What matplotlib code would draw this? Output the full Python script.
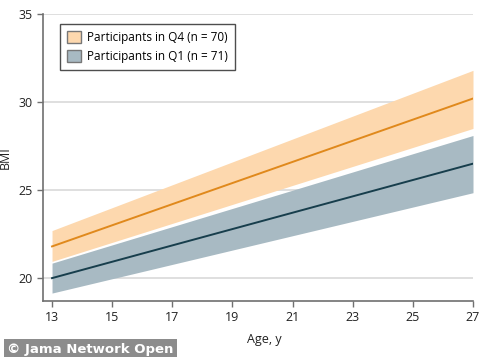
import numpy as np
import matplotlib.pyplot as plt
from matplotlib.patches import Patch

# Age endpoints and BMI
ages = [13, 27]
q4_mean = [21.8, 30.2]
q4_low = [20.95, 28.5]
q4_high = [22.7, 31.8]
q1_mean = [20.0, 26.5]
q1_low = [19.15, 24.85]
q1_high = [20.85, 28.1]

x_ticks = [13, 15, 17, 19, 21, 23, 25, 27]
y_ticks = [20, 25, 30, 35]

q4_line, q4_fill = "#E0891C", "#FDD8AE"
q1_line, q1_fill = "#173E4C", "#A8BAC3"

plt.rcParams['font.family'] = ['Open Sans', 'DejaVu Sans']

fig = plt.figure(figsize=(4.83, 3.57), dpi=100)
ax = fig.add_axes([43 / 483, 1 - 301 / 357, 430 / 483, 287 / 357])

ax.fill_between(ages, q4_low, q4_high, color=q4_fill, lw=0, zorder=2)
ax.fill_between(ages, q1_low, q1_high, color=q1_fill, lw=0, zorder=2)
ax.plot(ages, q4_mean, color=q4_line, lw=1.4, zorder=3)
ax.plot(ages, q1_mean, color=q1_line, lw=1.4, zorder=3)

ax.set_xlim(12.7, 27)
ax.set_ylim(18.7, 35)
ax.set_xticks(x_ticks)
ax.set_yticks(y_ticks)
ax.grid(axis='y', color='#D9D9D9', lw=1.2, zorder=1)
ax.set_axisbelow(True)

for s in ['top', 'right']:
    ax.spines[s].set_visible(False)
for s in ['left', 'bottom']:
    ax.spines[s].set_color('#707070')
    ax.spines[s].set_linewidth(1.2)
ax.tick_params(colors='#707070', labelcolor='#222222', labelsize=9, length=4, width=1)

ax.set_xlabel("Age, y", fontsize=9, color='#222222')
ax.set_ylabel("BMI", fontsize=9, color='#222222')
ax.xaxis.set_label_coords(0.515, -0.11)
ax.yaxis.set_label_coords(-0.072, 0.5)

handles = [
    Patch(facecolor=q4_fill, edgecolor='#777777', label="Participants in Q4 (n = 70)"),
    Patch(facecolor=q1_fill, edgecolor='#777777', label="Participants in Q1 (n = 71)"),
]
leg = ax.legend(handles=handles, loc='upper left', bbox_to_anchor=(0.025, 0.985),
                fontsize=8.5, frameon=True, fancybox=False, handlelength=1.2,
                handleheight=1.2, handletextpad=0.5, borderpad=0.6, labelspacing=0.5)
leg.get_frame().set_edgecolor('#222222')
leg.get_frame().set_linewidth(1.0)

fig.text(7 / 483, 1 - 349 / 357, "© Jama Network Open", fontsize=9.5, fontweight='bold',
         color='white', va='center', ha='left', family=['DejaVu Sans'],
         bbox=dict(facecolor='#8C8C8C', edgecolor='none', pad=2.5))

plt.savefig("out.png", dpi=100)
